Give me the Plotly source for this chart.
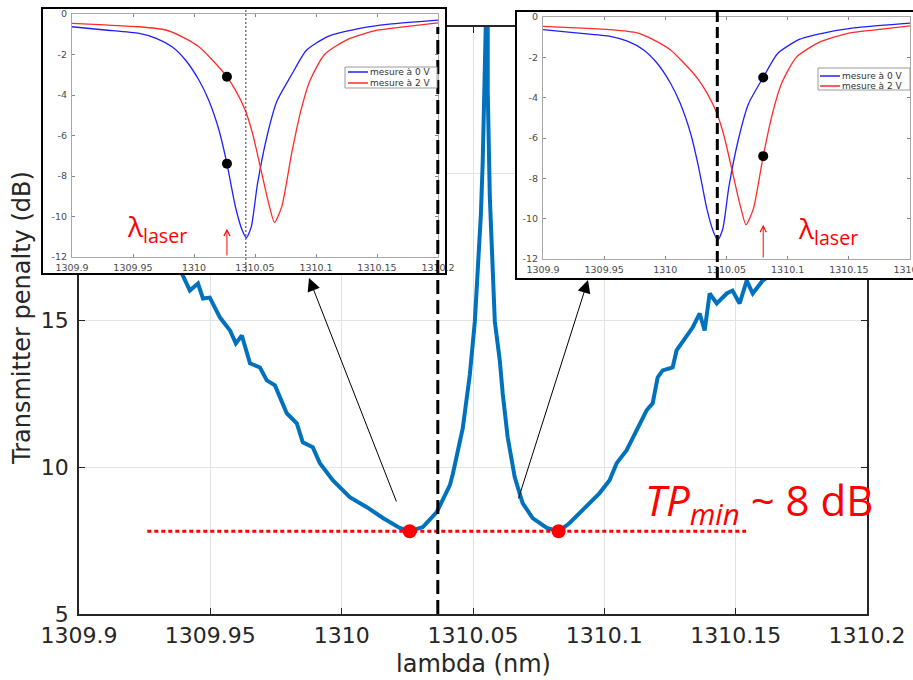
import plotly.graph_objects as go

# ---------------- data ----------------
# main curve: transmitter penalty (dB) vs wavelength (nm)
main_lambda = [1309.927, 1309.9346, 1309.9392, 1309.9422, 1309.9453, 1309.9472, 1309.9498,
               1309.9537, 1309.9575, 1309.9597, 1309.9620, 1309.9651, 1309.9689, 1309.9715,
               1309.9746, 1309.9791, 1309.9829, 1309.9852, 1309.9890, 1309.9917, 1309.9966,
               1310.0031, 1310.0096, 1310.0157, 1310.0221, 1310.0259, 1310.0309, 1310.0362,
               1310.0412, 1310.0423, 1310.0461, 1310.0488, 1310.0507, 1310.0518, 1310.0530,
               1310.0537, 1310.0541, 1310.0545, 1310.0551, 1310.0556, 1310.0556, 1310.0564,
               1310.0571, 1310.0583, 1310.0602, 1310.0613, 1310.0632, 1310.0659, 1310.0689,
               1310.0727, 1310.0781, 1310.0826, 1310.0868, 1310.0918, 1310.0982, 1310.1020,
               1310.1047, 1310.1085, 1310.1123, 1310.1161, 1310.1184, 1310.1203, 1310.1222,
               1310.1260, 1310.1275, 1310.1294, 1310.1313, 1310.1336, 1310.1363, 1310.1382,
               1310.1401, 1310.1428, 1310.1466, 1310.1488, 1310.1515, 1310.1542, 1310.1565,
               1310.1603, 1310.1641, 1310.1679, 1310.1724, 1310.1820, 1310.1934]
main_tp = [18.06, 17.21, 16.60, 16.02, 16.26, 15.75, 15.78,
           15.10, 14.66, 14.22, 14.49, 13.54, 13.40, 12.96,
           12.79, 11.84, 11.50, 10.85, 10.68, 10.14, 9.56,
           8.98, 8.64, 8.27, 7.93, 7.82, 7.96, 8.47,
           9.39, 9.76, 11.33, 13.16, 14.97, 16.80, 18.61,
           20.41, 22.96, 24.97, 26.0, 25.0, 22.86, 19.22,
           17.38, 14.97, 13.64, 12.52, 11.02, 9.66, 8.78,
           8.27, 7.93, 7.82, 8.10, 8.54, 9.12, 9.56,
           10.14, 10.58, 11.26, 11.94, 12.18, 13.06, 13.30,
           13.40, 13.98, 14.22, 14.49, 14.76, 15.24, 14.66,
           15.92, 15.58, 15.92, 16.02, 15.58, 16.36, 15.92,
           16.36, 16.60, 16.46, 16.70, 17.38, 17.89]

tp_min_lambda = [1310.0259, 1310.0826]
tp_min_value = [7.82, 7.82]
tp_line_lambda = [1309.926, 1310.154]
tp_line_value = [7.82, 7.82]
laser_ref_lambda = 1310.0366

# inset transmission spectra (dB)
spec_lambda_0V = [1309.9, 1309.927, 1309.955, 1309.969, 1309.982, 1309.993, 1310.004, 1310.012,
                  1310.0205, 1310.027, 1310.034, 1310.0395, 1310.043, 1310.047, 1310.052,
                  1310.060, 1310.068, 1310.080, 1310.092, 1310.110, 1310.135, 1310.160, 1310.2]
spec_db_0V = [-0.63, -0.79, -0.96, -1.20, -1.62, -2.27, -3.26, -4.25,
              -5.74, -7.39, -9.53, -10.68, -11.05, -10.5, -8.4,
              -6.0, -4.3, -3.0, -1.8, -1.1, -0.72, -0.5, -0.3]
spec_lambda_2V = [1309.9, 1309.927, 1309.955, 1309.977, 1309.990, 1310.004, 1310.015, 1310.027,
                  1310.034, 1310.042, 1310.048, 1310.055, 1310.061, 1310.066, 1310.072,
                  1310.080, 1310.0875, 1310.095, 1310.107, 1310.126, 1310.150, 1310.170, 1310.2]
spec_db_2V = [-0.46, -0.54, -0.63, -0.79, -1.12, -1.62, -2.27, -3.10,
              -3.76, -4.75, -5.90, -7.72, -9.30, -10.30, -9.50,
              -6.90, -4.80, -3.30, -2.00, -1.25, -0.80, -0.65, -0.44]

inset1_dot_lambda = [1310.027, 1310.027]
inset1_dot_db = [-3.10, -7.39]
inset1_laser = 1310.027
inset1_marker = 1310.0425
inset2_dot_lambda = [1310.080, 1310.080]
inset2_dot_db = [-3.0, -6.9]
inset2_laser = 1310.080
inset2_marker = 1310.0425

main_xtick_vals = [1309.9, 1309.95, 1310.0, 1310.05, 1310.1, 1310.15, 1310.2]
main_xtick_text = ["1309.9", "1309.95", "1310", "1310.05", "1310.1", "1310.15", "1310.2"]
main_ytick_vals = [5, 10, 15, 20, 25]
main_ytick_text = ["5", "10", "15", "", ""]   # 20 and 25 are hidden under the inset
inset_ytick_vals = [-12, -10, -8, -6, -4, -2, 0]
inset_ytick_text = ["-12", "-10", "-8", "-6", "-4", "-2", "0"]

# ---------------- figure ----------------
W, H = 913, 680
def px(x):
    return x / W
def py(y):
    return 1 - y / H

BLUE_MAIN = "#0072BD"
AX = "#262626"
FONT = "DejaVu Sans"

fig = go.Figure()

fig.add_trace(go.Scatter(x=main_lambda, y=main_tp, mode="lines",
                         line=dict(color=BLUE_MAIN, width=4), xaxis="x", yaxis="y",
                         hoverinfo="skip"))
fig.add_trace(go.Scatter(x=tp_line_lambda, y=tp_line_value, mode="lines",
                         line=dict(color="#ff0000", width=3, dash="4px,3px"),
                         xaxis="x", yaxis="y", hoverinfo="skip"))
fig.add_trace(go.Scatter(x=tp_min_lambda, y=tp_min_value, mode="markers",
                         marker=dict(color="#ff0000", size=14), xaxis="x", yaxis="y",
                         hoverinfo="skip"))

# empty traces for the inset frames
fig.add_trace(go.Scatter(x=[None], y=[None], xaxis="x2", yaxis="y2", hoverinfo="skip"))
fig.add_trace(go.Scatter(x=[None], y=[None], xaxis="x4", yaxis="y4", hoverinfo="skip"))

for xa, ya, dl, dd in [("x3", "y3", inset1_dot_lambda, inset1_dot_db),
                       ("x5", "y5", inset2_dot_lambda, inset2_dot_db)]:
    fig.add_trace(go.Scatter(x=spec_lambda_0V, y=spec_db_0V, mode="lines",
                             line=dict(color="#2020ff", width=1.3, shape="spline",
                                       smoothing=0.6),
                             xaxis=xa, yaxis=ya, hoverinfo="skip"))
    fig.add_trace(go.Scatter(x=spec_lambda_2V, y=spec_db_2V, mode="lines",
                             line=dict(color="#ff2a2a", width=1.3, shape="spline",
                                       smoothing=0.6),
                             xaxis=xa, yaxis=ya, hoverinfo="skip"))
    fig.add_trace(go.Scatter(x=dl, y=dd, mode="markers",
                             marker=dict(color="black", size=10), xaxis=xa, yaxis=ya,
                             hoverinfo="skip"))

main_axis_common = dict(showline=True, linecolor=AX, linewidth=1.5, mirror="ticks",
                        ticks="inside", ticklen=6, tickcolor=AX, tickwidth=1,
                        showgrid=True, gridcolor="#e3e3e3", gridwidth=1, zeroline=False,
                        tickfont=dict(family=FONT, size=22, color=AX), fixedrange=True,
                        automargin=False)
frame_common = dict(range=[0, 1], showline=True, linecolor="black", linewidth=1.5,
                    mirror=True, showgrid=False, zeroline=False, showticklabels=False,
                    ticks="", fixedrange=True, automargin=False)
inset_common = dict(showline=True, linecolor="#a8a8a8", linewidth=1, mirror="allticks",
                    ticks="inside", ticklen=3, tickcolor="#888888", showgrid=False,
                    zeroline=False, tickfont=dict(family=FONT, size=9.5, color="#4a4a4a"),
                    fixedrange=True, automargin=False, ticklabeloverflow="allow")

fig.update_layout(
    template="none",
    width=W, height=H, margin=dict(l=0, r=0, t=0, b=0, autoexpand=False),
    paper_bgcolor="white", plot_bgcolor="white", showlegend=False,
    xaxis=dict(domain=[px(79), px(867)], range=[1309.9, 1310.2], anchor="y",
               tickvals=main_xtick_vals, ticktext=main_xtick_text, ticklabelstandoff=1,
               **main_axis_common),
    yaxis=dict(domain=[py(614), py(27)], range=[5, 25], anchor="x",
               tickvals=main_ytick_vals, ticktext=main_ytick_text, ticklabelstandoff=4,
               **main_axis_common),
    xaxis2=dict(domain=[px(43), px(445)], anchor="y2", **frame_common),
    yaxis2=dict(domain=[py(273), py(9)], anchor="x2", **frame_common),
    xaxis3=dict(domain=[px(72), px(438)], range=[1309.9, 1310.2], anchor="y3",
                tickvals=main_xtick_vals, ticktext=main_xtick_text, ticklabelstandoff=2,
                **inset_common),
    yaxis3=dict(domain=[py(257), py(14)], range=[-12, 0], anchor="x3",
                tickvals=inset_ytick_vals, ticktext=inset_ytick_text, ticklabelstandoff=2,
                **inset_common),
    xaxis4=dict(domain=[px(517), 1.0], anchor="y4", **frame_common),
    yaxis4=dict(domain=[py(278), py(12)], anchor="x4", **frame_common),
    xaxis5=dict(domain=[px(543), px(910)], range=[1309.9, 1310.2], anchor="y5",
                tickvals=main_xtick_vals, ticktext=main_xtick_text, ticklabelstandoff=2,
                **inset_common),
    yaxis5=dict(domain=[py(259), py(17)], range=[-12, 0], anchor="x5",
                tickvals=inset_ytick_vals, ticktext=inset_ytick_text, ticklabelstandoff=2,
                **inset_common),
)

shapes = []
# dashed laser reference line in the main plot
shapes.append(dict(type="line", xref="x", yref="y", x0=laser_ref_lambda, x1=laser_ref_lambda,
                   y0=5, y1=25, line=dict(color="black", width=3, dash="14px,6px"),
                   layer="above"))
# inset markers
shapes.append(dict(type="line", xref="x3", yref="paper", x0=inset1_marker, x1=inset1_marker,
                   y0=py(272), y1=py(10), line=dict(color="#333333", width=1, dash="2px,2px"),
                   layer="above"))
shapes.append(dict(type="line", xref="x5", yref="paper", x0=inset2_marker, x1=inset2_marker,
                   y0=py(278), y1=py(12), line=dict(color="black", width=3, dash="11px,5px"),
                   layer="above"))

# manual legends inside the insets
legend_specs = [(345, 437, 67, 88, 348, 368, 72, 83),
                (818, 910, 68, 90, 820, 840, 76, 86)]
annotations = []
for (bx0, bx1, by0, by1, lx0, lx1, r1, r2) in legend_specs:
    shapes.append(dict(type="rect", xref="paper", yref="paper", x0=px(bx0), x1=px(bx1),
                       y0=py(by1), y1=py(by0), line=dict(color="#9a9a9a", width=1),
                       fillcolor="white", layer="above"))
    for ry, col, label in [(r1, "#2020ff", "mesure à 0 V"), (r2, "#ff2a2a", "mesure à 2 V")]:
        shapes.append(dict(type="line", xref="paper", yref="paper", x0=px(lx0), x1=px(lx1),
                           y0=py(ry), y1=py(ry), line=dict(color=col, width=1.5),
                           layer="above"))
        annotations.append(dict(text=label, xref="paper", yref="paper", x=px(lx1 + 1),
                                y=py(ry), xanchor="left", yanchor="middle", showarrow=False,
                                borderpad=0, font=dict(family=FONT, size=9, color="#333333")))

fig.update_layout(shapes=shapes)

# red laser arrows inside insets
for xa, ya, lx, y_tip in [("x3", "y3", inset1_laser, -10.6), ("x5", "y5", inset2_laser, -10.3)]:
    annotations.append(dict(xref=xa, yref=ya, x=lx, y=y_tip, axref=xa, ayref=ya, ax=lx, ay=-12,
                            text="", showarrow=True, arrowhead=5, arrowsize=1.2,
                            arrowwidth=1, arrowcolor="#ff0000"))

# lambda laser labels
for cx, cy in [(157, 228), (828, 230)]:
    annotations.append(dict(text="λ<sub>laser</sub>", xref="paper", yref="paper",
                            x=px(cx), y=py(cy), xanchor="center", yanchor="middle",
                            showarrow=False,
                            font=dict(family="Open Sans", size=28, color="#ff0000")))

# black arrows from curve to insets
for tipx, tipy, tailx, taily in [(309, 278, 397, 503), (588, 280, 518, 500)]:
    annotations.append(dict(xref="paper", yref="paper", x=px(tipx), y=py(tipy),
                            ax=tailx - tipx, ay=taily - tipy, text="", showarrow=True,
                            arrowhead=2, arrowsize=2.6, arrowwidth=1, arrowcolor="black",
                            standoff=0))

# TP_min label
annotations.append(dict(text="<i>TP</i><sub><i>min</i></sub> ~ 8 dB", xref="paper",
                        yref="paper", x=px(643), y=py(502), xanchor="left", yanchor="middle",
                        showarrow=False,
                        font=dict(family="Open Sans", size=42, color="#ff0000")))

# axis titles
annotations.append(dict(text="lambda (nm)", xref="paper", yref="paper", x=px(473), y=py(664),
                        xanchor="center", yanchor="middle", showarrow=False,
                        font=dict(family=FONT, size=24, color=AX)))
annotations.append(dict(text="Transmitter penalty (dB)", xref="paper", yref="paper",
                        x=px(22), y=py(318), xanchor="center", yanchor="middle",
                        textangle=-90, showarrow=False,
                        font=dict(family=FONT, size=24, color=AX)))

fig.update_layout(annotations=annotations)

fig.write_html("out.html", config={"displayModeBar": False},
               post_script="document.body.style.margin='0px';document.body.style.overflow='hidden';")
